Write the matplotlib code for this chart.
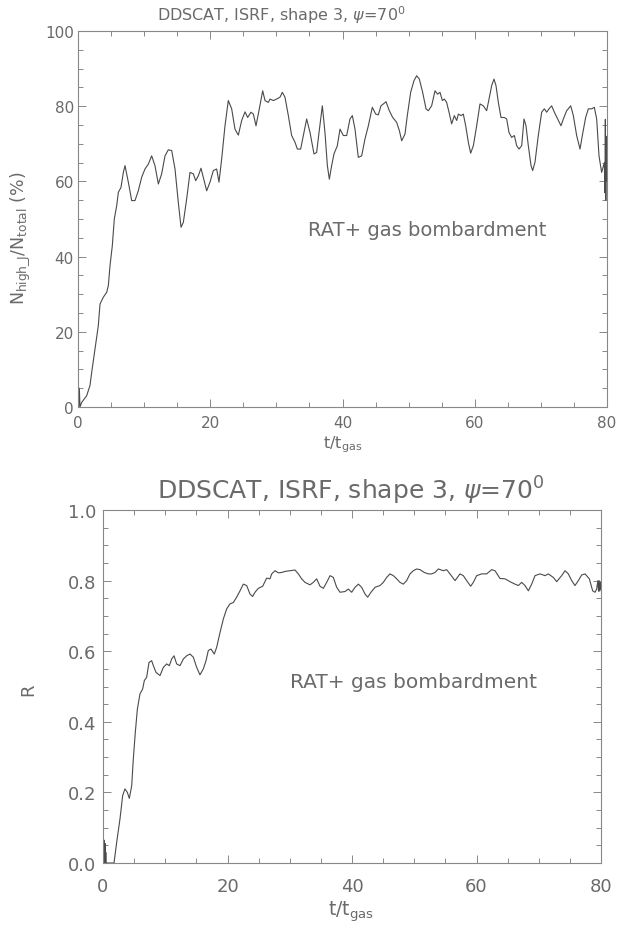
import matplotlib
matplotlib.use('Agg')
import matplotlib.pyplot as plt
from matplotlib.ticker import MultipleLocator

plt.rcParams['font.family'] = ['DejaVu Sans']
plt.rcParams['mathtext.default'] = 'regular'

# ---- top panel: N_high_J / N_total (%) vs t/t_gas ----
t_top = [0, 0.1, 0.2, 0.3, 0.55, 1.31, 1.81, 2.07, 2.57, 3.07, 3.33, 3.83, 4.34, 4.59, 4.84,
         5.19, 5.49, 5.85, 6.10, 6.50, 6.86, 7.11, 7.61, 8.12, 8.62, 9.12, 9.63, 10.13, 10.64,
         11.14, 11.64, 12.15, 12.65, 13.16, 13.66, 14.17, 14.67, 15.17, 15.58, 15.93, 16.43,
         16.94, 17.44, 17.80, 18.20, 18.60, 18.95, 19.46, 19.96, 20.47, 20.97, 21.32, 21.73,
         22.23, 22.73, 23.24, 23.74, 24.25, 24.75, 25.26, 25.66, 26.16, 26.52, 26.92, 27.42,
         27.93, 28.28, 28.78, 29.04, 29.54, 30.04, 30.55, 30.90, 31.30, 31.81, 32.31, 32.82,
         33.17, 33.67, 34.08, 34.58, 35.09, 35.69, 36.09, 36.45, 36.95, 37.35, 37.71, 38.01,
         38.36, 38.71, 39.22, 39.62, 40.13, 40.63, 41.13, 41.49, 41.89, 42.39, 42.90, 43.40,
         43.91, 44.51, 45.02, 45.42, 45.82, 46.18, 46.58, 47.08, 47.59, 48.19, 48.60, 48.95,
         49.45, 49.80, 50.31, 50.81, 51.22, 51.62, 52.12, 52.63, 52.98, 53.48, 53.99, 54.39,
         54.74, 55.10, 55.40, 55.75, 56.11, 56.51, 56.91, 57.27, 57.52, 57.92, 58.27, 58.63,
         59.03, 59.38, 59.79, 60.29, 60.79, 61.30, 61.80, 62.16, 62.56, 62.91, 63.21, 63.57,
         63.97, 64.47, 64.83, 65.18, 65.58, 65.99, 66.34, 66.69, 67.10, 67.45, 67.75, 68.10,
         68.51, 68.76, 69.11, 69.61, 70.12, 70.52, 70.88, 71.23, 71.63, 72.04, 72.54, 73.04,
         73.40, 73.90, 74.51, 74.91, 75.41, 75.92, 76.27, 76.77, 77.18, 77.68, 78.08, 78.44,
         78.79, 79.19, 79.60, 79.68, 79.75, 79.82, 79.88, 79.94, 80.0]
n_top = [0, 0, 5, 0, 1.2, 3.0, 5.7, 9.2, 15.4, 21.6, 27.4, 29.2, 30.5, 32.3, 37.6,
         42.9, 50.0, 53.5, 57.1, 58.4, 62.4, 64.2, 59.8, 54.9, 54.9, 57.5, 61.1, 63.3, 64.6,
         66.8, 64.2, 59.3, 62.0, 66.8, 68.4, 68.2, 63.3, 54.4, 47.8, 49.1, 55.3,
         62.4, 62.0, 60.2, 61.5, 63.5, 61.1, 57.5, 59.8, 62.9, 63.3, 59.8, 66.0,
         74.8, 81.5, 79.3, 73.9, 72.3, 76.2, 78.5, 77.0, 78.4, 77.9, 74.8, 79.3,
         84.1, 81.5, 81.0, 81.9, 81.5, 81.9, 82.4, 83.7, 82.4, 77.5, 72.2, 70.4,
         68.6, 68.6, 72.2, 76.6, 73.0, 67.3, 67.7, 73.0, 80.1, 73.0, 64.2, 60.6,
         64.2, 67.3, 69.5, 73.9, 72.2, 72.2, 76.6, 77.5, 73.9, 66.4, 66.8, 71.3,
         74.8, 79.7, 77.9, 77.7, 80.1, 80.6, 81.2, 78.8, 77.0, 75.7, 73.5, 70.8,
         72.6, 77.5, 83.7, 86.8, 88.1, 87.2, 83.7, 79.3, 78.8, 80.1, 84.1, 83.2,
         83.7, 81.5, 81.9, 81.0, 78.4, 75.3, 77.5, 76.2, 77.9, 77.5, 77.9, 74.8,
         70.4, 67.5, 69.5, 74.8, 80.6, 80.1, 78.8, 81.9, 85.5, 87.2, 85.5, 81.0,
         77.0, 77.0, 76.6, 73.0, 71.7, 72.2, 69.5, 68.6, 69.5, 76.6, 74.8, 69.5,
         64.2, 62.9, 65.1, 72.2, 78.4, 79.3, 78.4, 79.3, 80.1, 78.4, 76.6, 74.8,
         76.6, 78.8, 80.1, 77.5, 72.2, 68.6, 72.2, 77.0, 79.3, 79.3, 79.7, 76.6,
         66.8, 62.4, 65.0, 57.0, 76.5, 55.0, 72.0, 60.0, 66.0]

# ---- bottom panel: R vs t/t_gas ----
t_bot = [0, 0.05, 0.1, 0.15, 0.2, 0.25, 0.3, 0.35, 0.4, 0.45, 0.5, 1.77, 2.20, 2.73, 3.16,
         3.53, 3.91, 4.23, 4.61, 4.87, 5.19, 5.52, 5.94, 6.37, 6.64, 7.01, 7.39, 7.82, 8.09,
         8.51, 9.16, 9.69, 10.23, 10.66, 11.03, 11.41, 11.83, 12.37, 12.91, 13.44, 13.98,
         14.51, 15.05, 15.58, 16.12, 16.55, 16.92, 17.35, 17.88, 18.26, 18.80, 19.33, 19.87,
         20.40, 20.94, 21.47, 22.01, 22.54, 23.08, 23.61, 24.04, 24.42, 24.95, 25.65, 26.29,
         26.83, 27.10, 27.63, 28.17, 28.70, 29.24, 30.04, 30.84, 31.38, 31.91, 32.45, 33.25,
         33.79, 34.32, 34.86, 35.40, 35.93, 36.47, 37.00, 37.54, 38.07, 38.88, 39.41, 39.95,
         40.48, 41.02, 41.55, 42.09, 42.52, 43.05, 43.70, 44.50, 45.03, 45.57, 46.10, 46.64,
         47.18, 47.71, 48.25, 48.78, 49.32, 49.85, 50.39, 50.92, 51.62, 52.26, 52.80, 53.33,
         53.87, 54.67, 55.21, 55.74, 56.55, 57.35, 57.88, 58.42, 59.06, 59.49, 60.03, 60.83,
         61.63, 62.44, 62.97, 63.78, 64.58, 65.38, 66.18, 66.72, 67.26, 67.79, 68.33, 68.86,
         69.40, 70.20, 71.00, 71.54, 72.34, 72.88, 73.68, 74.22, 74.75, 75.29, 75.82, 76.36,
         76.90, 77.43, 78.13, 78.66, 79.04, 79.30, 79.5, 79.6, 79.7, 79.8, 79.9, 80.0]
r_bot = [0, 0.06, 0, 0.065, 0, 0.05, 0, 0.055, 0, 0.03, 0, 0, 0.059, 0.125, 0.191,
         0.210, 0.200, 0.183, 0.219, 0.295, 0.370, 0.436, 0.479, 0.493, 0.517, 0.526, 0.568, 0.573, 0.559,
         0.540, 0.531, 0.554, 0.564, 0.559, 0.578, 0.587, 0.564, 0.559, 0.578, 0.587, 0.592,
         0.583, 0.554, 0.533, 0.550, 0.573, 0.602, 0.606, 0.592, 0.611, 0.653, 0.691, 0.720,
         0.734, 0.738, 0.753, 0.771, 0.790, 0.786, 0.762, 0.755, 0.767, 0.778, 0.784, 0.807,
         0.805, 0.819, 0.828, 0.822, 0.823, 0.826, 0.828, 0.830, 0.819, 0.805, 0.795, 0.788,
         0.795, 0.805, 0.784, 0.778, 0.795, 0.814, 0.809, 0.781, 0.767, 0.769, 0.776, 0.767,
         0.781, 0.790, 0.781, 0.762, 0.753, 0.767, 0.781, 0.786, 0.795, 0.809, 0.819, 0.814,
         0.805, 0.795, 0.790, 0.800, 0.819, 0.828, 0.833, 0.831, 0.823, 0.819, 0.819, 0.823,
         0.833, 0.828, 0.831, 0.819, 0.800, 0.819, 0.814, 0.800, 0.784, 0.795, 0.814, 0.819,
         0.819, 0.831, 0.828, 0.806, 0.805, 0.797, 0.790, 0.786, 0.795, 0.786, 0.771, 0.790,
         0.814, 0.819, 0.814, 0.819, 0.809, 0.797, 0.814, 0.828, 0.819, 0.800, 0.786, 0.800,
         0.816, 0.819, 0.805, 0.771, 0.767, 0.776, 0.800, 0.770, 0.800, 0.770, 0.795, 0.775]

title = r'DDSCAT, ISRF, shape 3, $\mathit{\psi}$=70$^0$'
note = 'RAT+ gas bombardment'
xlab = r'$t/t_{gas}$'

W, H = 630, 928
txt = '#6a6a6a'
line = '#4a4a4a'


def fx(px):
    return px / W


def fy(py):
    return 1 - py / H


def style(ax, ymaj, ymin, pad_y, pad_x, size):
    ax.set_xlim(0, 80)
    ax.xaxis.set_major_locator(MultipleLocator(20))
    ax.xaxis.set_minor_locator(MultipleLocator(5))
    ax.yaxis.set_major_locator(MultipleLocator(ymaj))
    ax.yaxis.set_minor_locator(MultipleLocator(ymin))
    ax.tick_params(which='both', direction='in', top=True, right=True, color='#888888', width=0.7)
    ax.tick_params(which='major', length=6)
    ax.tick_params(which='minor', length=3.5)
    ax.tick_params(axis='y', pad=pad_y, labelsize=size, labelcolor=txt)
    ax.tick_params(axis='x', pad=pad_x, labelsize=size, labelcolor=txt)
    for s in ax.spines.values():
        s.set_color('#888888')
        s.set_linewidth(0.8)


fig = plt.figure(figsize=(6.3, 9.28), dpi=100)

# top panel
ax1 = fig.add_axes([fx(78), fy(408), fx(607) - fx(78), fy(32) - fy(408)])
ax1.plot(t_top, n_top, color=line, lw=0.8)
ax1.set_ylim(0, 100)
style(ax1, 20, 5, 3, 6, 11)
fig.text(fx(281), fy(15), title, ha='center', va='center', fontsize=11.5, color=txt)
fig.text(fx(343), fy(445), xlab, ha='center', va='center', fontsize=11.5, color=txt)
fig.text(fx(20), fy(238), r'N$_{high\_J}$/N$_{total}$ (%)', rotation=90,
         ha='center', va='center', fontsize=12.5, color=txt)
ax1.text(34.8, 47.3, note, ha='left', va='center', fontsize=14, color=txt)

# bottom panel
ax2 = fig.add_axes([fx(103), fy(864), fx(601) - fx(103), fy(511) - fy(864)])
ax2.plot(t_bot, r_bot, color=line, lw=0.8)
ax2.set_ylim(0, 1.0)
ax2.yaxis.set_major_formatter(matplotlib.ticker.FormatStrFormatter('%.1f'))
style(ax2, 0.2, 0.05, 5, 10, 13)
fig.text(fx(351), fy(491), title, ha='center', va='center', fontsize=18, color=txt)
fig.text(fx(351), fy(912), xlab, ha='center', va='center', fontsize=13.5, color=txt)
fig.text(fx(28), fy(690), 'R', rotation=90, ha='center', va='center', fontsize=13, color=txt)
ax2.text(30.0, 0.515, note, ha='left', va='center', fontsize=14.5, color=txt)

fig.savefig('out.png', dpi=100)
